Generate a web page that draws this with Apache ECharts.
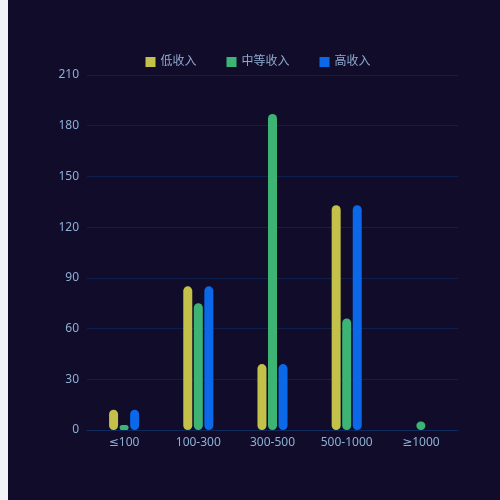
<!DOCTYPE html>
<html>
<head>
<meta charset="utf-8">
<script src="https://cdn.jsdelivr.net/npm/echarts@6/dist/echarts.min.js"></script>
<style>
html,body{margin:0;padding:0;background:#f3f4f9;overflow:hidden;}
#c{position:absolute;left:8px;top:0;width:500px;height:500px;background:#100c2a;}
</style>
</head>
<body>
<div id="c"></div>
<script>
var categories = ['≤100', '100-300', '300-500', '500-1000', '≥1000'];
var seriesNames = ['低收入', '中等收入', '高收入'];
var lowIncome = [12, 85, 39, 133, 0];
var midIncome = [3, 75, 187, 66, 5];
var highIncome = [12, 85, 39, 133, 0];
var yTicks = { min: 0, max: 210, interval: 30 };
var colors = ['#c4c14a', '#3db473', '#0a68e9'];

var FONT = '"Noto Sans", "DejaVu Sans", "Noto Sans CJK SC", sans-serif';
var chart = echarts.init(document.getElementById('c'));
function bar(name, data, color) {
  return {
    name: name, type: 'bar', data: data, barWidth: 9, barGap: '17%',
    itemStyle: { color: color, borderRadius: 5 }
  };
}
chart.setOption({
  backgroundColor: '#100c2a',
  color: colors,
  textStyle: { fontFamily: FONT },
  legend: {
    top: 51, left: 'center', itemWidth: 10, itemHeight: 10, itemGap: 30,
    icon: 'rect',
    textStyle: { color: '#8fa9cf', fontSize: 12, fontFamily: FONT },
    data: seriesNames
  },
  grid: { left: 79, right: 50, top: 75, bottom: 70 },
  xAxis: {
    type: 'category', data: categories,
    axisLine: { lineStyle: { color: '#0f2a5e' } },
    axisTick: { show: false },
    axisLabel: { color: '#8fb0d6', fontSize: 12, margin: 7, fontFamily: FONT }
  },
  yAxis: {
    type: 'value', min: yTicks.min, max: yTicks.max, interval: yTicks.interval,
    axisLine: { show: false }, axisTick: { show: false },
    axisLabel: { color: '#8fb0d6', fontSize: 12, margin: 8, fontFamily: FONT },
    splitLine: { lineStyle: { color: '#0f1f4c' } }
  },
  series: [
    bar(seriesNames[0], lowIncome, colors[0]),
    bar(seriesNames[1], midIncome, colors[1]),
    bar(seriesNames[2], highIncome, colors[2])
  ]
});
</script>
</body>
</html>
